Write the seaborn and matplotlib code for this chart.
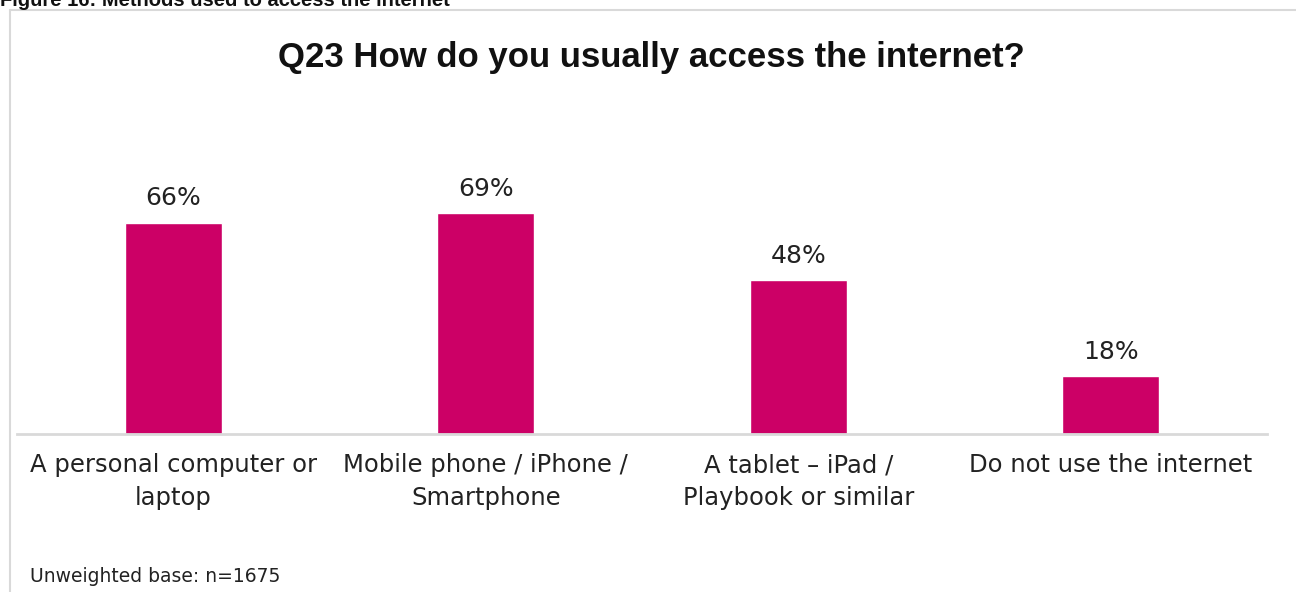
import matplotlib
matplotlib.use("Agg")
import matplotlib.pyplot as plt
import seaborn as sns

# ==================================================
# DATA
# ==================================================

categories = [
    "A personal computer or\nlaptop",
    "Mobile phone / iPhone /\nSmartphone",
    "A tablet \u2013 iPad /\nPlaybook or similar",
    "Do not use the internet",
]
values = [66, 69, 48, 18]

title = "Q23 How do you usually access the internet?"
heading = "Figure 16: Methods used to access the internet"
footnote = "Unweighted base: n=1675"

bar_color = "#CC0066"
grid_gray = "#D9D9D9"

# ==================================================
# PLOT
# ==================================================

sns.set_style("white")
plt.rcParams["font.family"] = ["DejaVu Sans"]

fig = plt.figure(figsize=(12.96, 5.92), dpi=100)
ax = fig.add_axes([17 / 1296, 1 - 434 / 592, 1250 / 1296, 320 / 592])

sns.barplot(
    x=categories,
    y=values,
    color=bar_color,
    saturation=1,
    width=0.31,
    ax=ax
)

ax.set_ylim(0, 100)
ax.set_xlim(-0.5, len(categories) - 0.5)

for c in ax.containers:
    ax.bar_label(
        c,
        labels=[f"{v}%" for v in values],
        padding=9,
        fontsize=18,
        color="#222222"
    )

ax.set_yticks([])
ax.set_ylabel("")
ax.set_xlabel("")
ax.tick_params(axis="x", length=0, pad=14, labelsize=17.5, labelcolor="#222222")
for lbl in ax.get_xticklabels():
    lbl.set_linespacing(1.45)

for s in ["top", "left", "right"]:
    ax.spines[s].set_visible(False)
ax.spines["bottom"].set_color(grid_gray)
ax.spines["bottom"].set_linewidth(2)

# chart border (light gray frame)
fig.add_artist(plt.Line2D([10 / 1296, 1.0], [1 - 10 / 592, 1 - 10 / 592],
                          transform=fig.transFigure, color=grid_gray, lw=1.5))
fig.add_artist(plt.Line2D([10 / 1296, 10 / 1296], [0, 1 - 10 / 592],
                          transform=fig.transFigure, color=grid_gray, lw=1.5))

fig.text(651 / 1296, 1 - 57 / 592, title, ha="center", va="center",
         fontsize=25, fontweight="bold", family=["Liberation Sans"],
         color="#111111")

fig.text(0.0, 1 - 6 / 592, heading, ha="left", va="baseline",
         fontsize=14.5, fontweight="bold", family=["Liberation Sans"],
         color="#111111")

fig.text(30 / 1296, 1 - 577 / 592, footnote, ha="left", va="center",
         fontsize=13.5, color="#222222")

plt.savefig("out.png", dpi=100)
plt.close()
